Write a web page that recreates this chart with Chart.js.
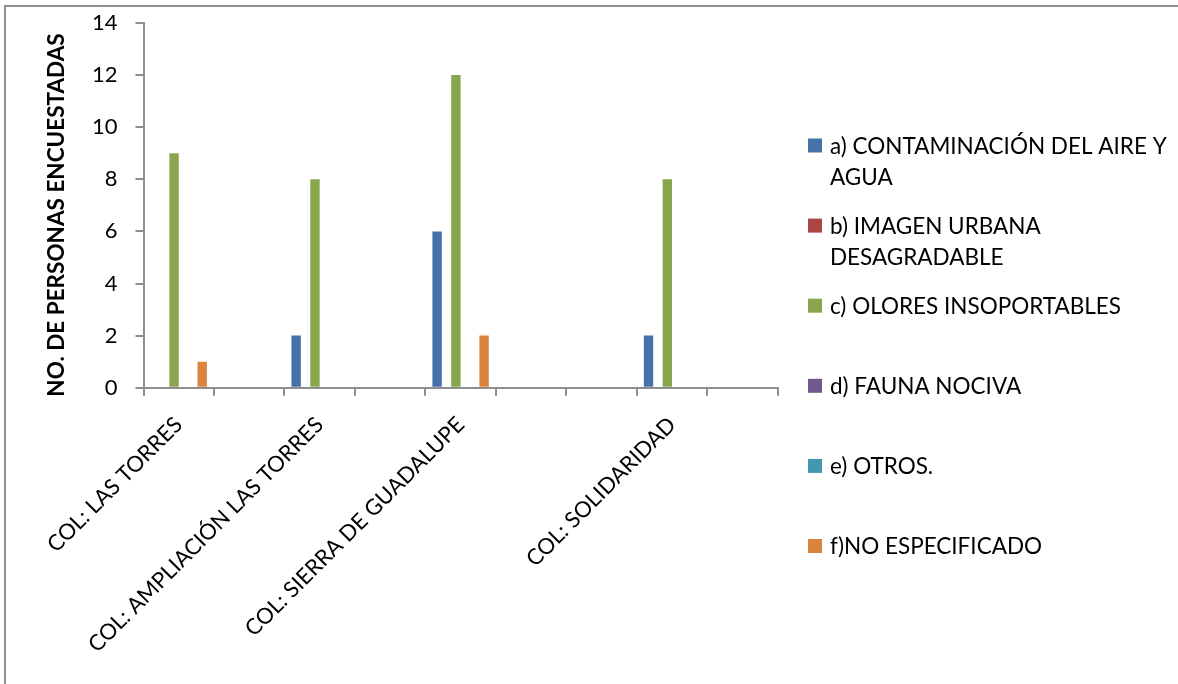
<!DOCTYPE html>
<html>
<head>
<meta charset="utf-8">
<script src="https://cdn.jsdelivr.net/npm/chart.js@4/dist/chart.umd.min.js"></script>
<style>
    html, body { margin: 0; padding: 0; background: #fff; overflow: hidden; }
    #wrap { position: relative; width: 1178px; height: 684px; }
    #frame {
        position: absolute; left: 4px; top: 5px; width: 2000px; height: 2000px;
        border-top: 2px solid #8e8e8e; border-left: 2px solid #8e8e8e;
    }
    #chart { position: absolute; left: 0; top: 0; }
</style>
</head>
<body>
<div id="wrap">
    <div id="frame"></div>
    <canvas id="chart" width="1178" height="684"></canvas>
</div>
<script>
// colonias (blank slots are empty categories on the axis)
const colonias = ['COL: LAS TORRES', '', 'COL: AMPLIACIÓN LAS TORRES', '', 'COL: SIERRA DE GUADALUPE', '', '', 'COL: SOLIDARIDAD', ''];

const seriesNames = [
    ['a) CONTAMINACIÓN DEL AIRE Y', 'AGUA'],
    ['b) IMAGEN URBANA', 'DESAGRADABLE'],
    ['c) OLORES INSOPORTABLES'],
    ['d) FAUNA NOCIVA'],
    ['e) OTROS.'],
    ['f)NO ESPECIFICADO']
];
const seriesColors = ['#4572A7', '#AA4643', '#89A54E', '#71588F', '#4198AF', '#DB843D'];

const aireAgua      = [0, null, 2, null, 6, null, null, 2, null];
const imagenUrbana  = [0, null, 0, null, 0, null, null, 0, null];
const olores        = [9, null, 8, null, 12, null, null, 8, null];
const fauna         = [0, null, 0, null, 0, null, null, 0, null];
const otros         = [0, null, 0, null, 0, null, null, 0, null];
const noEspecif     = [1, null, 0, null, 2, null, null, 0, null];

const yTicks = [0, 2, 4, 6, 8, 10, 12, 14];
const yTitle = 'NO. DE PERSONAS ENCUESTADAS';

const FONT = 'Lato, "Open Sans", sans-serif';
const AXIS_GREY = '#8e8e8e';

const seriesData = [aireAgua, imagenUrbana, olores, fauna, otros, noEspecif];

// legend on the right with wrapped names, plus the rotated y title
const sideLegend = {
    id: 'sideLegend',
    afterDraw(chart) {
        const ctx = chart.ctx;
        ctx.save();
        ctx.font = '22.5px ' + FONT;
        ctx.fillStyle = '#000';
        ctx.textBaseline = 'middle';
        ctx.textAlign = 'left';
        chart.data.datasets.forEach((ds, i) => {
            const cy = 145.5 + i * 80.1;
            ctx.fillStyle = ds.backgroundColor;
            ctx.fillRect(808, cy - 7, 14, 14);
            ctx.fillStyle = '#000';
            seriesNames[i].forEach((line, j) => {
                ctx.fillText(line, 830, cy + 1 + j * 31);
            });
        });

        ctx.translate(57, 215);
        ctx.rotate(-Math.PI / 2);
        ctx.textAlign = 'center';
        ctx.font = 'bold 22.5px ' + FONT;
        ctx.fillText(yTitle, 0, 0);
        ctx.restore();
    }
};

const ctx = document.getElementById('chart').getContext('2d');
window.encuestaChart = new Chart(ctx, {
    type: 'bar',
    data: {
        labels: colonias,
        datasets: seriesData.map((d, i) => ({
            label: seriesNames[i].join(' '),
            data: d,
            backgroundColor: seriesColors[i],
            borderWidth: 0,
            barPercentage: 1,
            categoryPercentage: 0.8
        }))
    },
    options: {
        responsive: false,
        animation: false,
        layout: { padding: { left: 0, top: 23, right: 400.3, bottom: 0 } },
        plugins: {
            legend: { display: false },
            tooltip: { enabled: false }
        },
        scales: {
            x: {
                afterFit: (scale) => {
                    scale.height = 296.3;
                    scale.paddingLeft = 0;
                    scale.paddingRight = 0;
                },
                grid: {
                    offset: true,
                    drawOnChartArea: false,
                    color: AXIS_GREY,
                    lineWidth: 2,
                    tickLength: 8
                },
                border: { color: AXIS_GREY, width: 2 },
                ticks: {
                    autoSkip: false,
                    maxRotation: 45,
                    minRotation: 45,
                    padding: 16,
                    color: '#000',
                    font: { family: FONT, size: 22 }
                }
            },
            y: {
                min: 0,
                max: 14,
                afterFit: (scale) => {
                    scale.width = 143.5;
                    scale.paddingTop = 0;
                    scale.paddingBottom = 0;
                },
                afterBuildTicks: (scale) => { scale.ticks = yTicks.map(v => ({ value: v })); },
                grid: {
                    drawOnChartArea: false,
                    color: AXIS_GREY,
                    lineWidth: 2,
                    tickLength: 8
                },
                border: { color: AXIS_GREY, width: 2 },
                ticks: {
                    padding: 18,
                    color: '#000',
                    font: { family: FONT, size: 22 }
                }
            }
        }
    },
    plugins: [sideLegend]
});
</script>
</body>
</html>
